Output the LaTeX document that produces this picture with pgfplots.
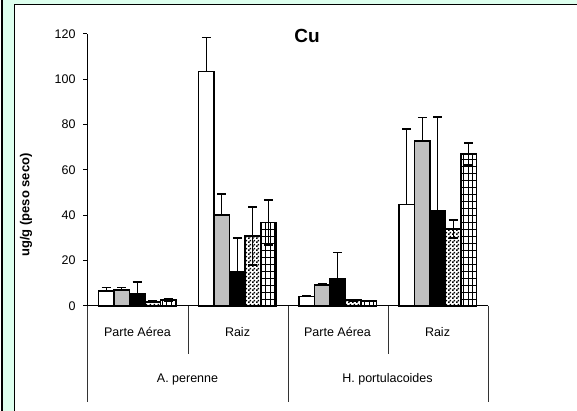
\documentclass[border=0pt]{standalone}
\usepackage{fontspec}
\setmainfont{Liberation Sans}
\usepackage{pgfplots}
\pgfplotsset{compat=1.18}
\usetikzlibrary{patterns}
\definecolor{mint}{RGB}{221,255,238}
\definecolor{barsilver}{RGB}{192,192,192}
\pgfdeclarepatternformonly{finechecker}{\pgfpointorigin}{\pgfpoint{4pt}{4pt}}{\pgfpoint{4pt}{4pt}}{%
  \pgfpathrectangle{\pgfpointorigin}{\pgfpoint{2pt}{2pt}}%
  \pgfpathrectangle{\pgfpoint{2pt}{2pt}}{\pgfpoint{2pt}{2pt}}%
  \pgfusepath{fill}}
\pgfdeclarepatternformonly{mygrid}{\pgfpoint{-0.5pt}{-0.5pt}}{\pgfpoint{5pt}{7.5pt}}{\pgfpoint{4.5pt}{7pt}}{%
  \pgfsetlinewidth{0.8pt}%
  \pgfpathmoveto{\pgfpoint{0pt}{0pt}}\pgfpathlineto{\pgfpoint{0pt}{7.1pt}}%
  \pgfpathmoveto{\pgfpoint{0pt}{0pt}}\pgfpathlineto{\pgfpoint{4.6pt}{0pt}}%
  \pgfusepath{stroke}}
\begin{document}
\begin{tikzpicture}
\useasboundingbox (0,0) rectangle (577pt,411pt);
\fill[mint] (2pt,0) rectangle (577pt,411pt);
\fill[white] (14.5pt,0) rectangle (577pt,406.5pt);
\draw[line width=1.2pt] (2pt,0) -- (2pt,411pt);
\draw[line width=1.2pt] (14.5pt,0) -- (14.5pt,406.5pt) -- (577pt,406.5pt);
\begin{axis}[
  at={(87pt,105pt)}, anchor=south west,
  scale only axis, width=401pt, height=272pt,
  xmin=0, xmax=4, ymin=0, ymax=120,
  axis lines=left, axis line style={-, line width=1pt},
  xtick=\empty,
  ytick={0,20,40,60,80,100,120},
  tick align=outside, major tick length=4pt,
  ytick style={line width=1pt, black},
  yticklabel style={font=\fontsize{12.5}{14}\selectfont, xshift=-4pt},
  /pgf/number format/assume math mode=true,
  ybar=0pt, bar width=15.5pt,
  clip=false,
  every axis plot/.append style={draw=black, line width=1.5pt},
  error bars/error bar style={line width=1.1pt, black},
  error bars/error mark options={rotate=90, mark size=4.5pt, line width=1.5pt, black},
]
\addplot[fill=white, error bars/.cd, y dir=plus, y explicit] table[x=x, y=y, y error=e] {
x y e
0.5 6.6 1.6
1.5 103.4 15.0
2.5 4.1 0.4
3.5 44.7 33.4
};
\addplot[fill=barsilver, error bars/.cd, y dir=plus, y explicit] table[x=x, y=y, y error=e] {
x y e
0.5 7.1 1.1
1.5 40.1 9.2
2.5 9.3 0.4
3.5 72.9 10.2
};
\addplot[fill=black, error bars/.cd, y dir=plus, y explicit] table[x=x, y=y, y error=e] {
x y e
0.5 5.3 5.3
1.5 15.3 14.7
2.5 11.8 11.7
3.5 41.9 41.5
};
\addplot[fill=white, postaction={pattern=finechecker}, error bars/.cd, y dir=both, y explicit] table[x=x, y=y, y error=e] {
x y e
0.5 1.8 0.3
1.5 30.9 12.8
2.5 2.6 0.3
3.5 34.0 3.9
};
\addplot[fill=white, postaction={pattern=mygrid}, error bars/.cd, y dir=both, y explicit] table[x=x, y=y, y error=e] {
x y e
0.5 2.6 0.6
1.5 36.9 9.9
2.5 2.2 0.3
3.5 67.1 4.8
};
\end{axis}
% category dividers
\draw[line width=1pt, black!80] (87pt,105pt) -- (87pt,9pt);
\draw[line width=1pt, black!80] (188pt,105pt) -- (188pt,57pt);
\draw[line width=1pt, black!80] (288pt,105pt) -- (288pt,9pt);
\draw[line width=1pt, black!80] (388pt,105pt) -- (388pt,57pt);
\draw[line width=1pt, black!80] (488pt,105pt) -- (488pt,9pt);
\begin{scope}[every node/.style={font=\fontsize{12.5}{14}\selectfont, inner sep=0pt}]
\node at (137.5pt,79pt) {Parte Aérea};
\node at (237.5pt,79pt) {Raiz};
\node at (337.5pt,79pt) {Parte Aérea};
\node at (437.5pt,79pt) {Raiz};
\node at (187.5pt,32pt) {A. perenne};
\node at (387.5pt,32pt) {H. portulacoides};
\end{scope}
\node[font=\bfseries\fontsize{19}{22}\selectfont, inner sep=0pt] at (307pt,375pt) {Cu};
\node[rotate=90, font=\bfseries\fontsize{13}{15}\selectfont, inner sep=0pt] at (26pt,206pt) {ug/g (peso seco)};
\end{tikzpicture}
\end{document}
